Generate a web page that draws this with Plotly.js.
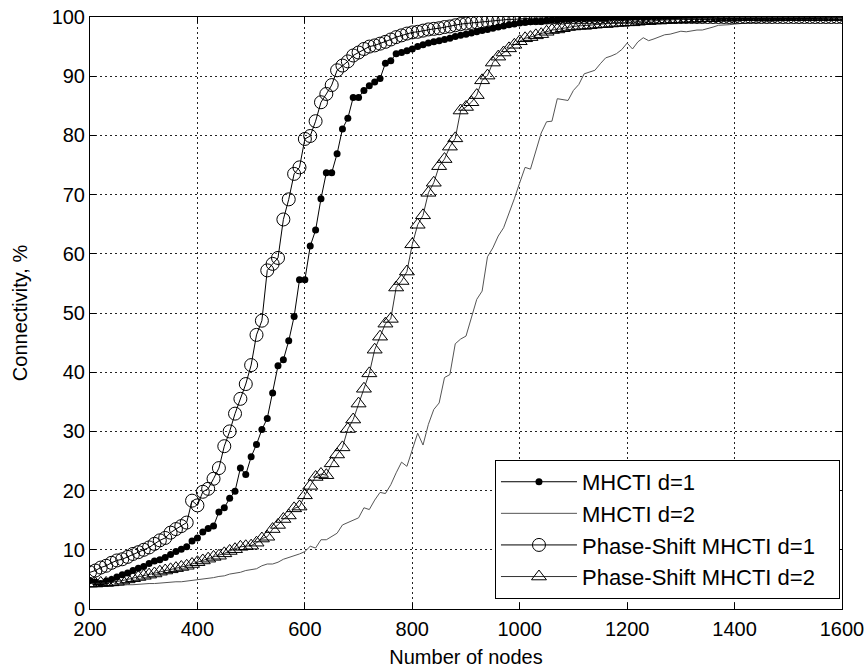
<!DOCTYPE html>
<html>
<head>
<meta charset="utf-8">
<script src="https://cdn.plot.ly/plotly-3.0.1.min.js"></script>
<style>
html,body{margin:0;padding:0;background:#fff;}
#chart{width:868px;height:672px;}
</style>
</head>
<body>
<div id="chart"></div>
<script>
// Number of nodes: 200 to 1600, step 10
var nodes = [];
for (var n = 200; n <= 1600; n += 10) nodes.push(n);

var xTicks = [200, 400, 600, 800, 1000, 1200, 1400, 1600];
var yTicks = [0, 10, 20, 30, 40, 50, 60, 70, 80, 90, 100];

var seriesNames = ["MHCTI d=1", "MHCTI d=2", "Phase-Shift MHCTI d=1", "Phase-Shift MHCTI d=2"];

// MHCTI d=1 (filled dots)
var mhcti1 = [
 4.8,4.5,4.3,4.7,5.0,5.4,5.8,6.1,6.5,6.9,
 7.2,7.7,8.1,8.3,8.7,9.2,9.7,10.1,10.5,11.5,
 12.0,13.0,13.6,14.0,16.4,17.1,18.7,19.9,23.8,22.7,
 25.7,27.8,30.3,32.2,36.5,41.1,42.1,45.3,49.4,55.6,
 55.6,61.3,64.0,69.3,73.7,73.7,76.9,81.1,82.9,86.4,
 86.4,87.6,88.4,89.0,89.6,92.2,92.6,93.8,94.0,94.3,
 94.6,95.0,95.3,95.6,95.8,96.0,96.2,96.4,96.7,96.9,
 97.1,97.3,97.5,97.7,97.9,98.1,98.3,98.5,98.7,98.8,
 99.0,99.1,99.2,99.3,99.3,99.4,99.5,99.5,99.6,99.6,
 99.7,99.7,99.7,99.8,99.8,99.8,99.8,99.9,99.9,99.9,
 99.9,100,100,99.9,100,100,100,100,100,100,
 100,100,100,100,100,100,100,100,100,100,
 100,100,100,100,100,100,100,100,100,100,
 100,100,100,100,100,100,100,100,100,100,
 100
];

// MHCTI d=2 (plain line)
var mhcti2 = [
 3.7,3.8,3.8,3.9,3.9,4.0,4.0,4.1,4.1,4.2,
 4.2,4.3,4.3,4.4,4.5,4.5,4.6,4.6,4.7,4.8,
 4.9,5.0,5.2,5.3,5.5,5.6,5.9,6.0,6.2,6.5,
 6.7,6.8,7.3,7.6,7.6,7.9,8.4,8.7,8.9,9.3,
 9.7,10.6,10.3,11.7,11.7,12.3,12.8,14.2,14.6,15.0,
 15.4,17.1,16.8,18.4,19.7,19.5,21.0,23.0,24.8,24.1,
 26.8,29.7,27.7,31.2,33.7,34.8,39.1,39.6,44.8,45.6,
 46.1,49.0,52.3,53.7,59.5,61.0,63.0,64.4,66.8,69.3,
 72.0,74.6,74.3,77.2,80.4,82.3,82.4,86.2,86.0,85.9,
 87.6,88.6,90.4,90.7,91.0,92.1,93.1,93.4,93.8,94.5,
 95.6,94.6,95.8,96.5,96.0,96.3,96.7,97.0,97.1,97.3,
 97.6,97.5,97.7,97.8,97.8,98.0,98.3,98.6,98.6,98.7,
 98.8,98.9,99.0,99.0,99.1,99.2,99.2,99.3,99.3,99.4,
 99.4,99.5,99.5,99.5,99.6,99.6,99.6,99.7,99.7,99.7,
 99.8
];

// Phase-Shift MHCTI d=1 (open circles)
var psMhcti1 = [
 6.2,6.5,7.0,7.3,7.8,8.2,8.4,8.8,9.3,9.6,
 10.0,10.4,11.0,11.6,12.0,12.9,13.5,14.0,14.6,18.3,
 17.5,19.8,20.3,22.0,23.8,27.5,30.0,33.0,35.5,38.0,
 41.2,46.3,48.7,57.2,58.3,59.3,65.8,69.2,73.5,74.6,
 79.4,79.9,82.4,85.6,87.0,88.5,91.0,91.8,92.5,93.5,
 94.0,94.6,95.0,95.2,95.5,95.8,96.2,96.6,96.9,97.2,
 97.4,97.5,97.7,97.9,98.0,98.1,98.3,98.4,98.6,98.8,
 98.9,99.0,99.1,99.2,99.3,99.4,99.4,99.5,99.6,99.6,
 99.7,99.7,99.8,99.8,99.8,99.9,99.9,99.9,99.9,100,
 100,100,100,100,100,100,100,100,100,100,
 100,100,100,100,100,100,100,100,100,100,
 100,100,100,100,100,100,100,100,100,100,
 100,100,100,100,100,100,100,100,100,100,
 100,100,100,100,100,100,100,100,100,100,
 100
];

// Phase-Shift MHCTI d=2 (open triangles)
var psMhcti2 = [
 4.3,4.3,4.4,4.4,4.5,4.6,4.8,5.0,5.2,5.4,
 5.6,5.8,6.0,6.3,6.5,6.7,6.9,7.1,7.3,7.6,
 7.9,8.2,8.5,8.8,9.0,9.4,9.8,10.1,10.5,10.6,
 10.7,11.2,11.9,12.2,13.5,14.2,15.2,15.8,17.0,17.3,
 19.2,20.8,22.3,22.8,22.6,24.6,26.1,27.3,30.4,32.0,
 34.7,37.2,39.8,43.8,46.0,48.2,49.0,54.3,55.4,57.0,
 61.6,64.9,66.5,70.3,72.0,74.8,76.0,78.1,79.5,84.2,
 84.8,85.6,86.8,89.3,90.1,92.3,93.3,94.0,94.7,95.3,
 95.9,96.4,96.6,96.9,97.1,97.5,97.8,97.9,98.1,98.3,
 98.4,98.5,98.5,98.6,98.7,98.8,98.8,98.9,99.0,99.0,
 99.1,99.1,99.2,99.3,99.3,99.4,99.4,99.5,99.5,99.6,
 99.6,99.7,99.7,99.7,99.8,99.8,99.8,99.9,99.9,99.9,
 99.9,100,100,100,100,100,100,100,100,100,
 100,100,100,100,100,100,100,100,100,100,
 100
];

var FONT = "Liberation Sans, Arial, sans-serif";
var PAD = "\u00a0\u00a0\u00a0";

var traces = [
  {
    x: nodes, y: mhcti1, name: seriesNames[0], legendgroup: "a",
    type: "scatter", mode: "lines+markers",
    line: {color: "#000", width: 1},
    marker: {symbol: "circle", size: 7, color: "#000"}
  },
  {
    x: nodes, y: mhcti2, name: seriesNames[1], legendgroup: "b",
    type: "scatter", mode: "lines",
    line: {color: "#555", width: 1}
  },
  {
    x: nodes, y: psMhcti1, name: seriesNames[2], legendgroup: "c",
    type: "scatter", mode: "lines+markers",
    line: {color: "#000", width: 1},
    marker: {symbol: "circle-open", size: 13, color: "#000", line: {width: 1, color: "#000"}}
  },
  {
    x: nodes, y: psMhcti2, name: seriesNames[3] + PAD, legendgroup: "d",
    type: "scatter", mode: "lines+markers",
    line: {color: "#333", width: 1},
    marker: {symbol: "triangle-up-open", size: 13, color: "#000", line: {width: 1, color: "#000"}}
  }
];

var layout = {
  width: 868, height: 672,
  margin: {l: 90, r: 26, t: 17, b: 63},
  paper_bgcolor: "#fff", plot_bgcolor: "#fff",
  font: {family: FONT, size: 20, color: "#000"},
  showlegend: true,
  xaxis: {
    range: [200, 1600], tickvals: xTicks, ticktext: xTicks.map(String),
    showgrid: true, gridcolor: "#222", griddash: "2px,3px", gridwidth: 1,
    zeroline: false, showline: true, linecolor: "#000", linewidth: 1, mirror: "ticks",
    ticks: "inside", ticklen: 6, tickcolor: "#000", ticklabelstandoff: 2,
    tickfont: {family: FONT, size: 20, color: "#000"},
    title: {text: "Number of nodes", font: {family: FONT, size: 20, color: "#000"}, standoff: 10},
    automargin: false
  },
  yaxis: {
    range: [0, 100], tickvals: yTicks, ticktext: yTicks.map(String),
    showgrid: true, gridcolor: "#222", griddash: "2px,3px", gridwidth: 1,
    zeroline: false, showline: true, linecolor: "#000", linewidth: 1, mirror: "ticks",
    ticks: "inside", ticklen: 6, tickcolor: "#000",
    tickfont: {family: FONT, size: 20, color: "#000"},
    title: {text: "Connectivity, %", font: {family: FONT, size: 20, color: "#000"}, standoff: 18},
    automargin: false
  },
  legend: {
    x: 0.9973, xanchor: "right", y: 0.017, yanchor: "bottom",
    bgcolor: "#fff", bordercolor: "#000", borderwidth: 1,
    font: {family: FONT, size: 22, color: "#000"},
    itemwidth: 76, tracegroupgap: 4, traceorder: "normal"
  }
};

Plotly.newPlot("chart", traces, layout, {displayModeBar: false, staticPlot: true});
</script>
</body>
</html>
